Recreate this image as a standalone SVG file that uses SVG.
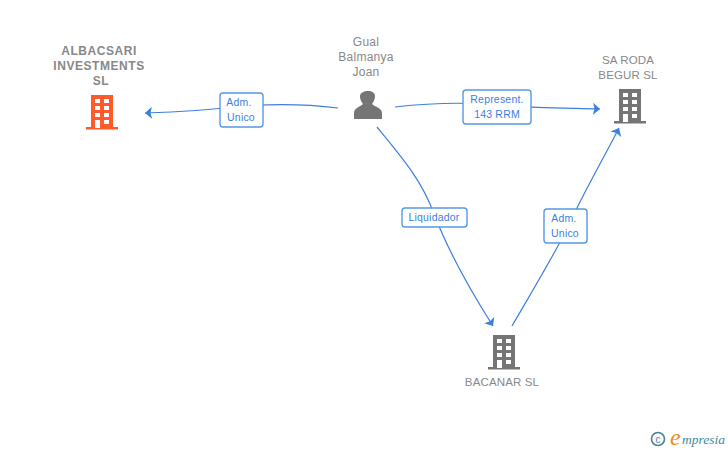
<svg xmlns="http://www.w3.org/2000/svg" width="728" height="450" viewBox="0 0 728 450">
<style>
text{font-family:"Liberation Sans",Arial,sans-serif}
.n{font-size:12px;fill:#888;text-anchor:middle;letter-spacing:.25px}
.c{font-size:11.5px;fill:#888;text-anchor:middle;letter-spacing:.15px}
.nb{font-size:12px;font-weight:bold;fill:#888;text-anchor:middle;letter-spacing:.55px}
.e{fill:none;stroke:#3b7fe0;stroke-width:1.2}
.b{fill:#fff;stroke:#5a97e6;stroke-width:1.4}
.l{font-size:10.5px;fill:#3b7fe0;text-anchor:middle;letter-spacing:.2px}
.g{fill:#757575}.o{fill:#ff5a2b}.w{fill:#fff}
</style>
<defs>
<marker id="a" markerUnits="userSpaceOnUse" markerWidth="10" markerHeight="14" refX="7" refY="6" orient="auto"><path d="M0 0L7 6L0 12L1.5 6Z" fill="#3b7fe0"/></marker>
<g id="bld">
<rect x="4" y="0" width="22" height="33"/><rect x="-1" y="32" width="32" height="2.5"/>
<g class="w"><rect x="8" y="4" width="5" height="4"/><rect x="17" y="4" width="5" height="4"/><rect x="8" y="11" width="5" height="4"/><rect x="17" y="11" width="5" height="4"/><rect x="8" y="18" width="5" height="4"/><rect x="17" y="18" width="5" height="4"/><rect x="8" y="25" width="5" height="8"/><rect x="17" y="25" width="5" height="4"/></g>
</g>
</defs>
<g id="connectors">
<path class="e" d="M338 108C300 103 270 104 241 106C210 110 180 112 145 113" marker-end="url(#a)"/>
<path class="e" d="M395 107C430 103 465 102 497 105C530 108 565 108 600 109" marker-end="url(#a)"/>
<path class="e" d="M377 127C400 155 422 180 434 214C450 255 470 290 493 326" marker-end="url(#a)"/>
<path class="e" d="M512 326C530 295 548 265 565 233C582 195 600 165 619 128" marker-end="url(#a)"/>
</g>
<g id="n1">
<text class="nb" x="99" y="55">ALBACSARI</text><text class="nb" x="99" y="70">INVESTMENTS</text><text class="nb" x="101" y="85">SL</text>
<use href="#bld" x="87" y="95" class="o"/>
</g>
<g id="n2">
<text class="n" x="366" y="46">Gual</text><text class="n" x="366" y="61">Balmanya</text><text class="n" x="366" y="76">Joan</text>
<path class="g" d="M354 119V113C354 108 360 107 363 104C360 100 360 97 360 96C360 93 364 91 368 91C372 91 375 93 375 96C375 97 375 100 372 104C375 107 382 108 382 113V119Z"/>
</g>
<g id="n3">
<text class="c" x="628" y="64">SA RODA</text><text class="c" x="628" y="79">BEGUR SL</text>
<use href="#bld" x="615" y="89" class="g"/>
</g>
<g id="n4">
<use href="#bld" x="489" y="335" class="g"/>
<text class="c" x="502" y="386">BACANAR SL</text>
</g>
<g id="l1"><rect class="b" x="220" y="93" width="43" height="34" rx="3"/><text class="l" x="239" y="106">Adm.</text><text class="l" x="241" y="121">Unico</text></g>
<g id="l2"><rect class="b" x="463" y="90" width="68" height="34" rx="3"/><text class="l" x="497" y="103">Represent.</text><text class="l" x="497" y="118">143 RRM</text></g>
<g id="l3"><rect class="b" x="402" y="208" width="65" height="19" rx="3"/><text class="l" x="434" y="221">Liquidador</text></g>
<g id="l4"><rect class="b" x="544" y="209" width="43" height="34" rx="3"/><text class="l" x="564" y="222">Adm.</text><text class="l" x="565" y="237">Unico</text></g>
<g id="logo">
<circle cx="658" cy="439" r="6.5" fill="none" stroke="#4a8296" stroke-width="1.6"/>
<text x="658" y="442.500" font-size="10" fill="#4a8296" text-anchor="middle">c</text>
<text x="670" y="445" font-size="24" font-style="italic" fill="#f08a1d" style="font-family:'Liberation Serif',serif">e</text>
<text x="682" y="444" font-size="13.500" font-style="italic" fill="#3d8a9e" style="font-family:'Liberation Serif',serif">mpresia</text>
</g>
</svg>
